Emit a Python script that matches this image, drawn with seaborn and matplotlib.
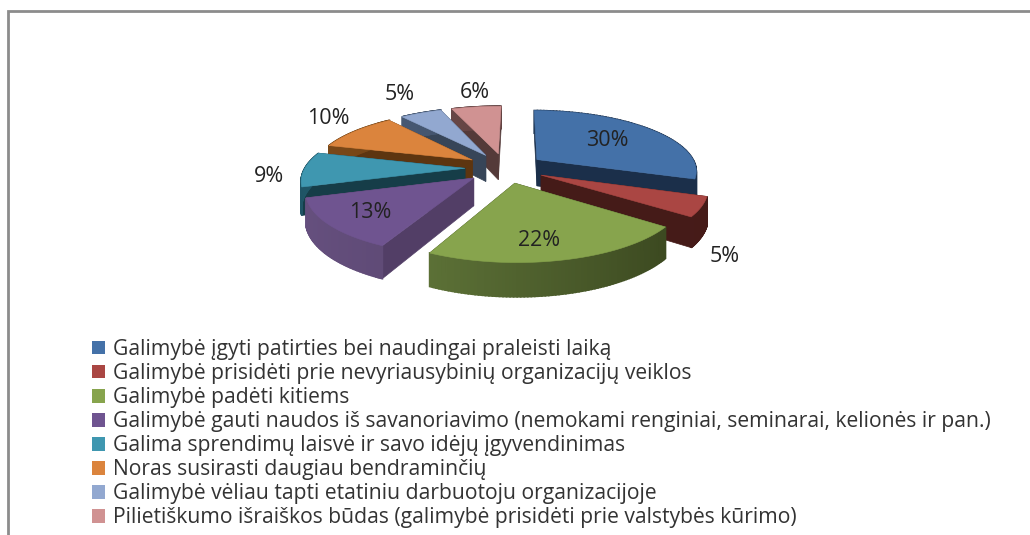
import numpy as np
import matplotlib
matplotlib.use("Agg")
import matplotlib.pyplot as plt
from matplotlib.patches import Polygon, Patch
import seaborn as sns

categories = [
    "Galimybė įgyti patirties bei naudingai praleisti laiką",
    "Galimybė prisidėti prie nevyriausybinių organizacijų veiklos",
    "Galimybė padėti kitiems",
    "Galimybė gauti naudos iš savanoriavimo (nemokami renginiai, seminarai, kelionės ir pan.)",
    "Galima sprendimų laisvė ir savo idėjų įgyvendinimas",
    "Noras susirasti daugiau bendraminčių",
    "Galimybė vėliau tapti etatiniu darbuotoju organizacijoje",
    "Pilietiškumo išraiškos būdas (galimybė prisidėti prie valstybės kūrimo)",
]
values = [30, 5, 22, 13, 9, 10, 5, 6]
colors = ["#4471a8", "#aa4643", "#87a44d", "#6f5490", "#3f97b0", "#db843d", "#92a8d0", "#d09292"]
cut_colors = ["#1b2f4a", "#451b18", "#37431d", "#523e66", "#163d48", "#5d3510", "#374558", "#543a39"]
wall_light = ["#2a4668", "#54201e", "#6a8240", "#66507f", "#1f5566", "#7a4818", "#4a5c78", "#704c4c"]
wall_dark = ["#1b2f4a", "#451b18", "#37431d", "#4f3d62", "#163d48", "#5d3510", "#374558", "#543a39"]
label_pos = [(607, 140), (725, 256), (539, 241), (370, 213), (269, 177), (328, 118), (400, 94), (475, 93)]

W, H = 1030, 535
CX, CY, RX, RY, K, DEPTH = 505, 168, 160, 60, 0.17, 27
EXPLODE = 0.25
DRAW_ORDER = [7, 6, 5, 4, 0, 1, 3, 2]

sns.set_theme(style="white")
plt.rcParams["font.family"] = ["Open Sans", "DejaVu Sans"]

fig = plt.figure(figsize=(W / 100, H / 100), dpi=100)
helper = fig.add_axes([0, 0, 1, 1])
wedges, _ = helper.pie(values, explode=[EXPLODE] * len(values), startangle=89.2, counterclock=False, radius=1)
geometry = [(w.center, w.r, w.theta1, w.theta2) for w in wedges]
helper.remove()

ax = fig.add_axes([0, 0, 1, 1])
ax.set_xlim(0, W)
ax.set_ylim(H, 0)
ax.axis("off")


def project(x, y, lift=0.0):
    d = 1 + K * np.asarray(y)
    return np.column_stack([CX + RX * np.asarray(x) / d, CY - RY * np.asarray(y) / d + lift * DEPTH / d])


def mix(c1, c2, t):
    a, b = np.array(matplotlib.colors.to_rgb(c1)), np.array(matplotlib.colors.to_rgb(c2))
    return a + (b - a) * t


z = 1
for i in DRAW_ORDER:
    (cx0, cy0), r, t1, t2 = geometry[i]
    th = np.radians(np.linspace(t1, t2, 80))
    ax_x, ax_y = cx0 + r * np.cos(th), cy0 + r * np.sin(th)
    top = project(ax_x, ax_y)
    bot = project(ax_x, ax_y, 1)
    apex_t = project([cx0], [cy0])
    apex_b = project([cx0], [cy0], 1)
    for end in (0, -1):
        ax.add_patch(Polygon([apex_t[0], top[end], bot[end], apex_b[0]], closed=True, fc=cut_colors[i], ec=cut_colors[i], lw=0.5, zorder=z))
    for j in range(len(th) - 1):
        sx = 0.5 * (np.cos(th[j]) + 1)
        col = mix(wall_light[i], wall_dark[i], sx)
        ax.add_patch(Polygon([top[j], top[j + 1], bot[j + 1], bot[j]], closed=True, fc=col, ec=col, lw=1.2, zorder=z))
    ax.add_patch(Polygon(np.vstack([apex_t, top]), closed=True, fc=colors[i], ec=colors[i], lw=0.4, zorder=z + 1))
    z += 2

for (x, y), v in zip(label_pos, values):
    ax.text(x, y, f"{v}%", ha="center", va="center", fontsize=15.5, color="#222222", zorder=100)

handles = [Patch(fc=c, ec="none") for c in colors]
ax.legend(handles, categories, loc="upper left", bbox_to_anchor=(92 / W, 1 - 339 / H), frameon=False,
          fontsize=15.2, labelcolor="#333333", handlelength=0.62, handleheight=0.62, handletextpad=0.38,
          labelspacing=0.145, borderpad=0, borderaxespad=0)

frame_c = "#8c8c8c"
ax.plot([7.5, 7.5, W], [H, 10.5, 10.5], color=frame_c, lw=2, solid_joinstyle="miter", zorder=0)

fig.savefig("out.png", dpi=100, facecolor="white")
